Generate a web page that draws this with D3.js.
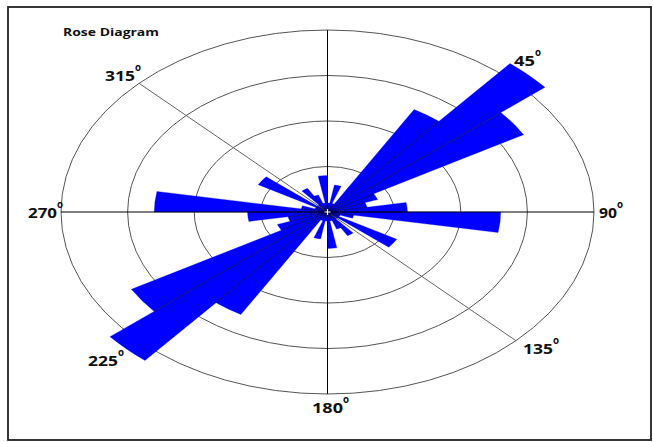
<!DOCTYPE html>
<html>
<head>
<meta charset="utf-8">
<script src="https://cdn.jsdelivr.net/npm/d3@7"></script>
<style>
html,body{margin:0;padding:0;background:#fff;}
svg{display:block;}
</style>
</head>
<body>
<svg id="chart" width="653" height="442"></svg>
<script>
// ---- data ----
const binStarts = d3.range(0, 360, 10);            // bin start angles (deg), 10° bins
const counts = [1,3,1,13,21.3,17,4,3,6,13,2,1,6,1,3,2,1,4,
                1,3,1,13,21.3,17,4,3,6,13,2,1,6,1,3,2,1,4];
const ringValues = [5,10,15,20];
const angleLabels = ["45","90","135","180","225","270","315"];
const labelAngles = [45,90,135,180,225,270,315];
const title = "Rose Diagram";

// ---- layout ----
const W = 653, H = 442;
const cx = 327.5, cy = 212, rx = 266.5, ry = 182;
const svg = d3.select("#chart");

svg.append("rect").attr("x",8).attr("y",7).attr("width",643).attr("height",433)
  .attr("fill","#fff").attr("stroke","#222").attr("stroke-width",1.8);

const r = d3.scaleLinear().domain([0, 20]).range([0, 1]);
const g = svg.append("g").attr("transform",`translate(${cx},${cy}) scale(${rx},${ry})`);
const toRad = d => d * Math.PI / 180;
const px = (deg, v) => [cx + rx * r(v) * Math.sin(toRad(deg)), cy - ry * r(v) * Math.cos(toRad(deg))];

// rings
g.selectAll("ellipse.ring").data(ringValues).join("ellipse")
  .attr("cx",0).attr("cy",0).attr("rx",d=>r(d)).attr("ry",d=>r(d))
  .attr("fill","none").attr("stroke","#555").attr("stroke-width",1)
  .attr("vector-effect","non-scaling-stroke");

// diagonal 315-135
const p1 = px(315, 20), p2 = px(135, 20);
svg.append("line").attr("x1",p1[0]).attr("y1",p1[1]).attr("x2",p2[0]).attr("y2",p2[1])
  .attr("stroke","#666").attr("stroke-width",1);
// axes
[[0,180],[90,270]].forEach(([a,b])=>{
  const q1 = px(a,20), q2 = px(b,20);
  svg.append("line").attr("x1",q1[0]).attr("y1",q1[1]).attr("x2",q2[0]).attr("y2",q2[1])
    .attr("stroke","#000").attr("stroke-width",1);
});

// bars
const arc = d3.arc().innerRadius(0)
  .outerRadius(d => r(d.v))
  .startAngle(d => toRad(d.a))
  .endAngle(d => toRad(d.a + 10));
const bars = binStarts.map((a,i)=>({a, v: counts[i]}));
g.selectAll("path.bar").data(bars).join("path")
  .attr("d", arc).attr("fill","#0000ff").attr("stroke","#0000ff")
  .attr("stroke-width",0.3).attr("vector-effect","non-scaling-stroke");

// seam lines between adjacent bars
const seams = binStarts.map((a,i)=>({a, v: Math.min(counts[i], counts[(i+35)%36])}))
  .filter(d => d.v > 0);
svg.selectAll("line.seam").data(seams).join("line")
  .attr("x1",cx).attr("y1",cy)
  .attr("x2",d=>px(d.a,d.v)[0]).attr("y2",d=>px(d.a,d.v)[1])
  .attr("stroke","#000040").attr("stroke-width",0.7);

// center marker
svg.append("path").attr("d",`M${cx-3},${cy}H${cx+3}M${cx},${cy-3}V${cy+3}`)
  .attr("stroke","#fff").attr("stroke-width",1.2);

// title
svg.append("text").attr("x",63).attr("y",36).text(title)
  .attr("font-family","'Open Sans', 'DejaVu Sans', sans-serif").attr("font-weight","bold")
  .attr("font-size",11).attr("fill","#111")
  .attr("textLength",96).attr("lengthAdjust","spacingAndGlyphs");

// angle labels: [x of text start, baseline y, width]
const labelPos = {
  "45":[514,66,21], "90":[599,218,18], "135":[523,354,30], "180":[312,413,31],
  "225":[88,366,30], "270":[28,218,29], "315":[105,81,30]
};
const lab = svg.append("g").attr("font-family","'Open Sans', 'DejaVu Sans', sans-serif")
  .attr("font-weight","bold").attr("fill","#111");
angleLabels.forEach((t,i)=>{
  const [x,y,w] = labelPos[t];
  lab.append("text").attr("x",x).attr("y",y).attr("font-size",14).text(t)
    .attr("textLength",w).attr("lengthAdjust","spacingAndGlyphs");
  lab.append("text").attr("x",x+w).attr("y",y-10).attr("font-size",10).text("o")
    .attr("textLength",6).attr("lengthAdjust","spacingAndGlyphs");
});
</script>
</body>
</html>
